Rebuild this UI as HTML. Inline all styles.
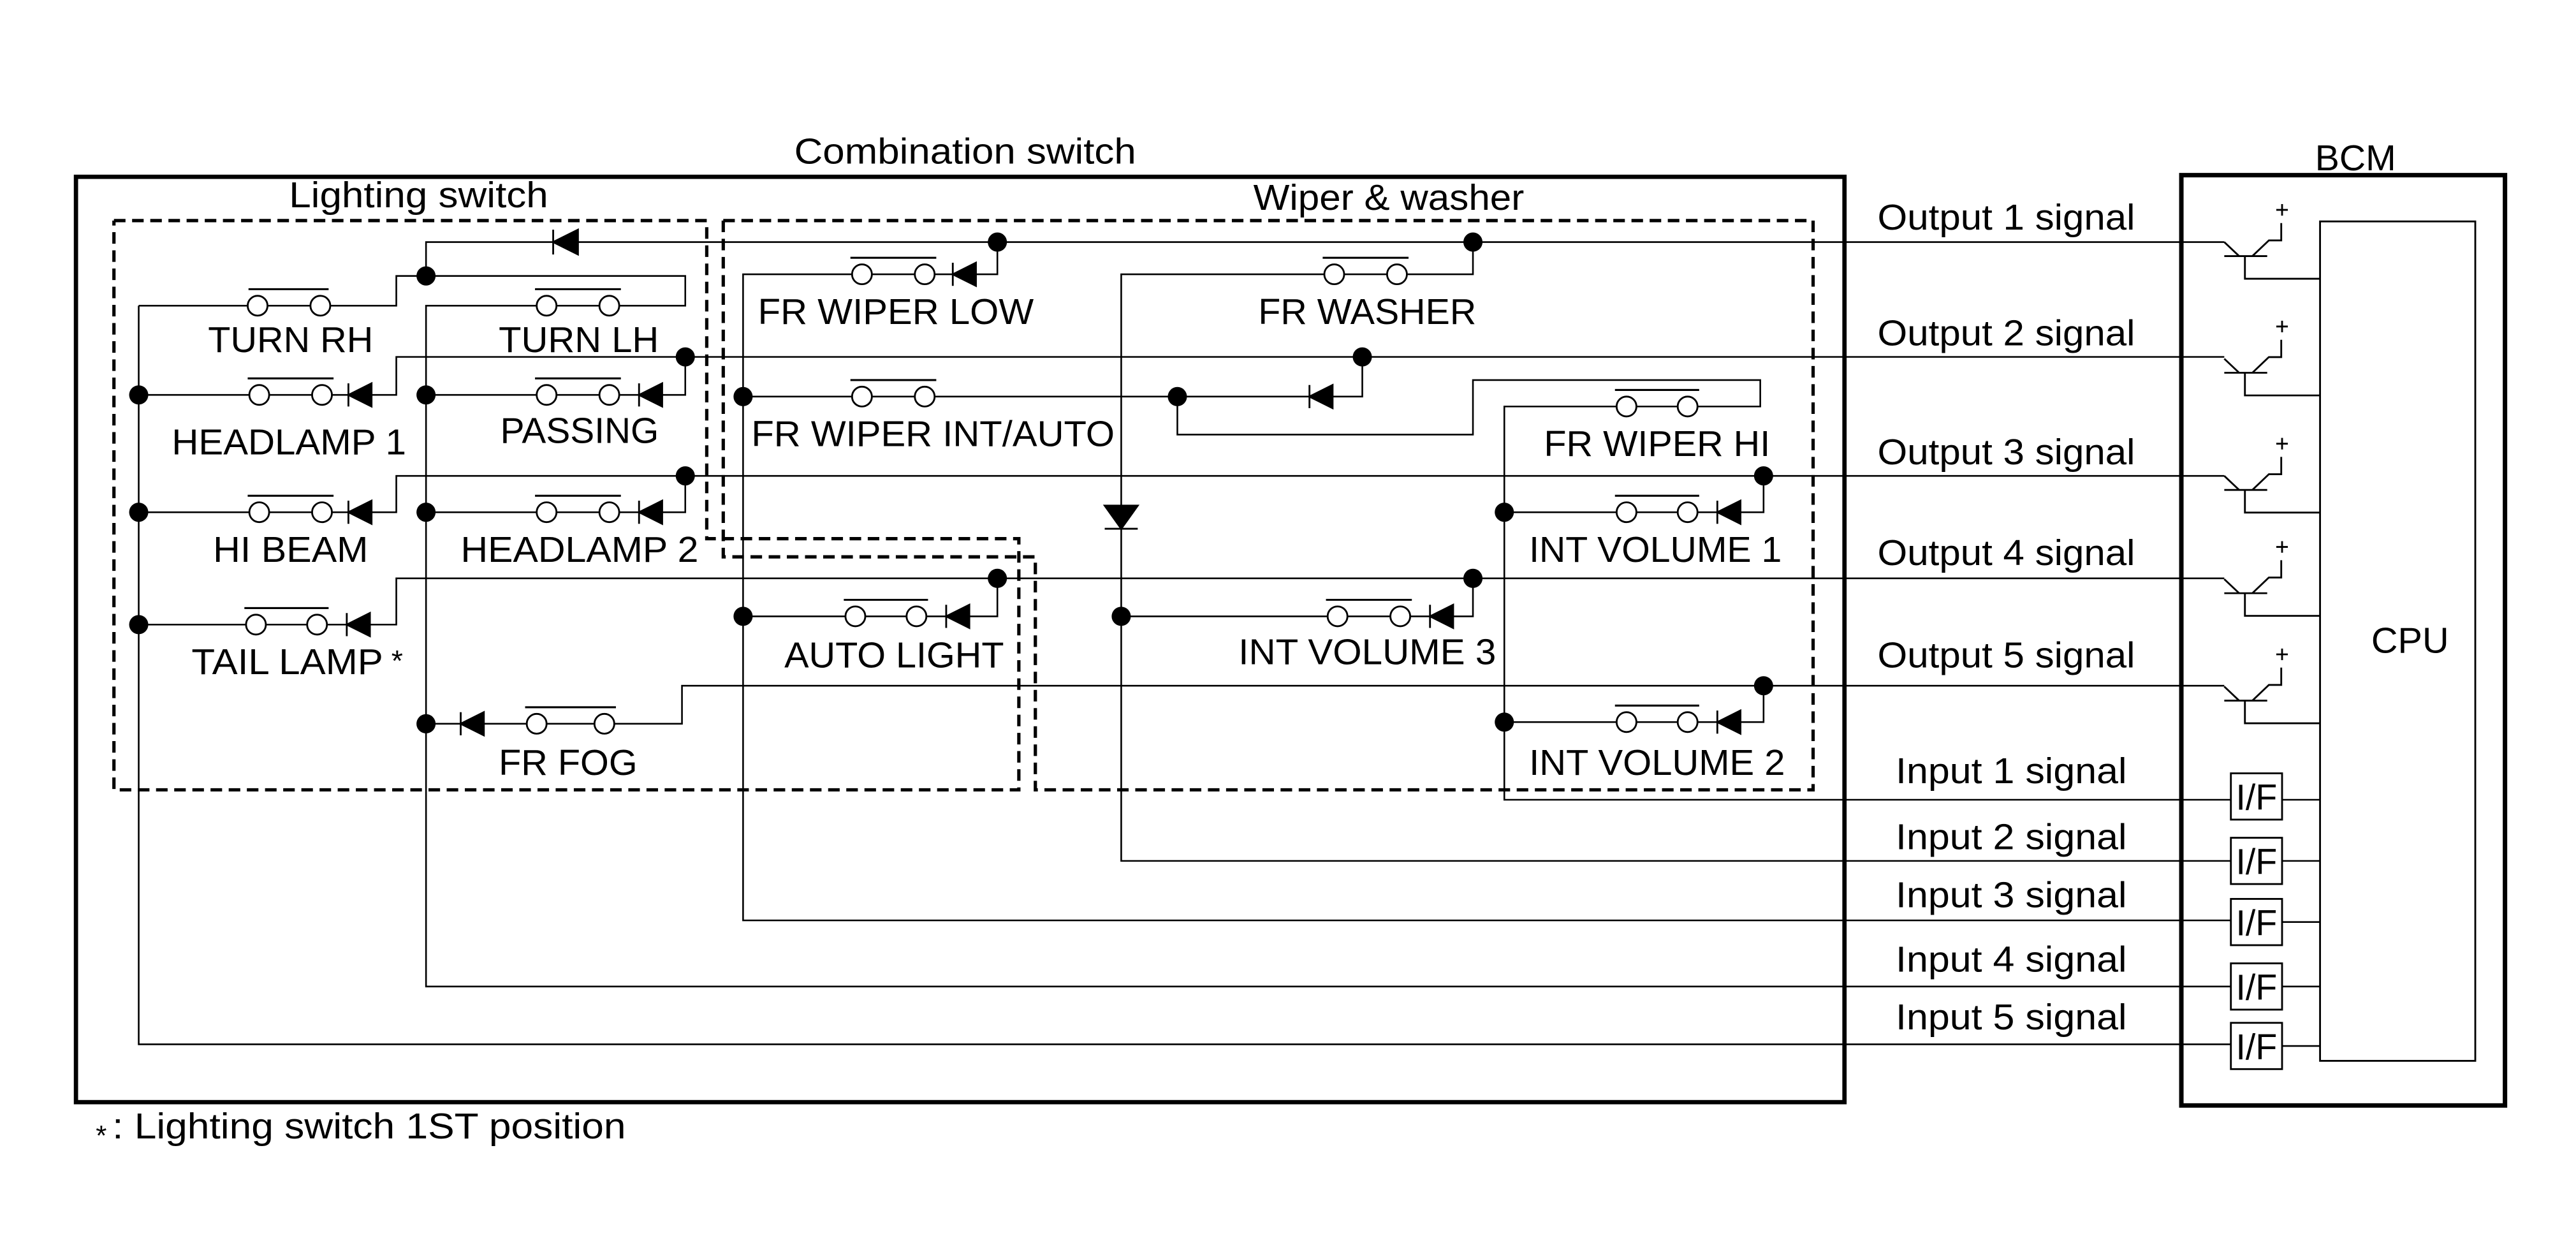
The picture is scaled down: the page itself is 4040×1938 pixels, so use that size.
<!DOCTYPE html>
<html><head><meta charset="utf-8"><style>
html,body{margin:0;padding:0;background:#fff;}
svg{display:block;}
text{font-family:"Liberation Sans",sans-serif;fill:#000;}
</style></head><body>
<svg xmlns="http://www.w3.org/2000/svg" width="4040" height="1938" viewBox="0 0 1560 748" preserveAspectRatio="none">
<rect x="0" y="0" width="1560" height="748" fill="#fff"/>
<g fill="none" stroke="#000" stroke-width="1" stroke-linejoin="miter">
<rect x="46" y="107" width="1071" height="560" stroke-width="2.6"/>
<rect x="1321" y="106" width="196" height="563" stroke-width="2.7"/>
<rect x="1405" y="134" width="94" height="508" stroke-width="1.1"/>
<g stroke-width="2" stroke-dasharray="7 4">
<polyline points="69,133.5 428,133.5 428,326 617,326 617,478 69,478 69,133.5"/>
<polyline points="438,133.5 1098,133.5 1098,478 627,478 627,337 438,337 438,133.5"/>
</g>
<polyline points="1347,146.5 258,146.5 258,167"/>
<polyline points="604,146.5 604,166 450,166 450,557 1351,557"/>
<polyline points="892,146.5 892,166 679,166 679,521 1351,521"/>
<polyline points="84,185 240,185 240,167 415,167 415,185 258,185 258,597 1351,597"/>
<polyline points="84,185 84,632 1351,632"/>
<polyline points="84,239 240,239 240,216 1347,216"/>
<polyline points="415,216 415,239 258,239"/>
<polyline points="84,310 240,310 240,288 1347,288"/>
<polyline points="415,288 415,310 258,310"/>
<polyline points="84,378 240,378 240,350 1347,350"/>
<polyline points="258,438 413,438 413,415 1347,415"/>
<polyline points="450,240 825,240 825,216"/>
<polyline points="713,240 713,263 892,263 892,230 1066,230 1066,246 911,246 911,484 1351,484"/>
<polyline points="911,310 1068,310 1068,288"/>
<polyline points="911,437 1068,437 1068,415"/>
<polyline points="679,373 892,373 892,350"/>
<polyline points="450,373 604,373 604,350"/>
<line x1="1382" y1="484" x2="1405" y2="484"/>
<line x1="1382" y1="521" x2="1405" y2="521"/>
<line x1="1382" y1="558" x2="1405" y2="558"/>
<line x1="1382" y1="597" x2="1405" y2="597"/>
<line x1="1382" y1="633" x2="1405" y2="633"/>
</g>
<g fill="#fff" stroke="#000" stroke-width="1.1">
<rect x="1351" y="468" width="31" height="28"/>
<rect x="1351" y="507" width="31" height="28"/>
<rect x="1351" y="544" width="31" height="28"/>
<rect x="1351" y="583" width="31" height="28"/>
<rect x="1351" y="619" width="31" height="28"/>
</g>
<g font-size="22" text-anchor="middle">
<text x="1366.5" y="490" textLength="25" lengthAdjust="spacingAndGlyphs">I/F</text>
<text x="1366.5" y="529" textLength="25" lengthAdjust="spacingAndGlyphs">I/F</text>
<text x="1366.5" y="566" textLength="25" lengthAdjust="spacingAndGlyphs">I/F</text>
<text x="1366.5" y="605" textLength="25" lengthAdjust="spacingAndGlyphs">I/F</text>
<text x="1366.5" y="641" textLength="25" lengthAdjust="spacingAndGlyphs">I/F</text>
</g>
<g fill="none" stroke="#000" stroke-width="1.1">
<g id="tr">
<polyline points="1347,146.5 1356,155"/>
<line x1="1347" y1="155" x2="1373" y2="155"/>
<polyline points="1364,155 1374,145.5 1381.5,145.5 1381.5,135"/>
<polyline points="1359.5,155 1359.5,168.7 1405,168.7"/>
<line x1="1378.5" y1="127" x2="1385.5" y2="127"/>
<line x1="1382" y1="123.5" x2="1382" y2="130.5"/>
</g>
<use href="#tr" transform="translate(0,70.6)"/>
<use href="#tr" transform="translate(0,141.5)"/>
<use href="#tr" transform="translate(0,204)"/>
<use href="#tr" transform="translate(0,269)"/>
</g>
<g fill="#fff" stroke="#000" stroke-width="1.1">
<circle cx="156" cy="185" r="6"/><circle cx="194" cy="185" r="6"/>
<circle cx="331" cy="185" r="6"/><circle cx="369" cy="185" r="6"/>
<circle cx="157" cy="239" r="6"/><circle cx="195" cy="239" r="6"/>
<circle cx="331" cy="239" r="6"/><circle cx="369" cy="239" r="6"/>
<circle cx="157" cy="310" r="6"/><circle cx="195" cy="310" r="6"/>
<circle cx="331" cy="310" r="6"/><circle cx="369" cy="310" r="6"/>
<circle cx="155" cy="378" r="6"/><circle cx="192" cy="378" r="6"/>
<circle cx="325" cy="438" r="6"/><circle cx="366" cy="438" r="6"/>
<circle cx="522" cy="166" r="6"/><circle cx="560" cy="166" r="6"/>
<circle cx="808" cy="166" r="6"/><circle cx="846" cy="166" r="6"/>
<circle cx="522" cy="240" r="6"/><circle cx="560" cy="240" r="6"/>
<circle cx="985" cy="246" r="6"/><circle cx="1022" cy="246" r="6"/>
<circle cx="985" cy="310" r="6"/><circle cx="1022" cy="310" r="6"/>
<circle cx="985" cy="437" r="6"/><circle cx="1022" cy="437" r="6"/>
<circle cx="810" cy="373" r="6"/><circle cx="848" cy="373" r="6"/>
<circle cx="518" cy="373" r="6"/><circle cx="555" cy="373" r="6"/>
</g>
<g stroke="#000" stroke-width="1.2">
<line x1="150.5" y1="175" x2="199" y2="175"/>
<line x1="324" y1="175" x2="376" y2="175"/>
<line x1="150" y1="229" x2="202" y2="229"/>
<line x1="324" y1="229" x2="376" y2="229"/>
<line x1="150" y1="300" x2="202" y2="300"/>
<line x1="324" y1="300" x2="376" y2="300"/>
<line x1="148" y1="368" x2="199" y2="368"/>
<line x1="318" y1="428" x2="373" y2="428"/>
<line x1="515" y1="156" x2="567" y2="156"/>
<line x1="801" y1="156" x2="853" y2="156"/>
<line x1="515" y1="230" x2="567" y2="230"/>
<line x1="978" y1="236" x2="1029" y2="236"/>
<line x1="978" y1="300" x2="1029" y2="300"/>
<line x1="978" y1="427" x2="1029" y2="427"/>
<line x1="803" y1="363" x2="855" y2="363"/>
<line x1="511" y1="363" x2="562" y2="363"/>
</g>
<g fill="#000" stroke="#000" stroke-width="1.1">
<polygon points="335,146.5 350,139 350,154"/><line x1="335" y1="139" x2="335" y2="154"/>
<polygon points="211,239 225,232 225,246"/><line x1="211" y1="232" x2="211" y2="246"/>
<polygon points="387,239 401,232 401,246"/><line x1="387" y1="232" x2="387" y2="246"/>
<polygon points="211,310 225,303 225,317"/><line x1="211" y1="303" x2="211" y2="317"/>
<polygon points="387,310 401,303 401,317"/><line x1="387" y1="303" x2="387" y2="317"/>
<polygon points="210,378 224,371 224,385"/><line x1="210" y1="371" x2="210" y2="385"/>
<polygon points="279,438 293,431 293,445"/><line x1="279" y1="431" x2="279" y2="445"/>
<polygon points="577,166 591,159 591,173"/><line x1="577" y1="159" x2="577" y2="173"/>
<polygon points="793,240 807,233 807,247"/><line x1="793" y1="233" x2="793" y2="247"/>
<polygon points="1040,310 1054,303 1054,317"/><line x1="1040" y1="303" x2="1040" y2="317"/>
<polygon points="1040,437 1054,430 1054,444"/><line x1="1040" y1="430" x2="1040" y2="444"/>
<polygon points="866,373 880,366 880,380"/><line x1="866" y1="366" x2="866" y2="380"/>
<polygon points="573,373 587,366 587,380"/><line x1="573" y1="366" x2="573" y2="380"/>
<polygon points="669,306 689,306 679,320"/><line x1="669" y1="320" x2="689" y2="320"/>
</g>
<g fill="#000">
<circle cx="258" cy="167" r="5.8"/><circle cx="604" cy="146.5" r="5.8"/><circle cx="892" cy="146.5" r="5.8"/>
<circle cx="84" cy="239" r="5.8"/><circle cx="258" cy="239" r="5.8"/><circle cx="415" cy="216" r="5.8"/>
<circle cx="450" cy="240" r="5.8"/><circle cx="713" cy="240" r="5.8"/><circle cx="825" cy="216" r="5.8"/>
<circle cx="84" cy="310" r="5.8"/><circle cx="258" cy="310" r="5.8"/><circle cx="415" cy="288" r="5.8"/>
<circle cx="911" cy="310" r="5.8"/><circle cx="1068" cy="288" r="5.8"/><circle cx="84" cy="378" r="5.8"/>
<circle cx="604" cy="350" r="5.8"/><circle cx="892" cy="350" r="5.8"/><circle cx="450" cy="373" r="5.8"/>
<circle cx="679" cy="373" r="5.8"/><circle cx="258" cy="438" r="5.8"/><circle cx="1068" cy="415" r="5.8"/>
<circle cx="911" cy="437" r="5.8"/>
</g>
<g font-size="22">
<text x="481" y="99" textLength="207" lengthAdjust="spacingAndGlyphs">Combination switch</text>
<text x="1402" y="103" textLength="49" lengthAdjust="spacingAndGlyphs">BCM</text>
<text x="175" y="125.5" textLength="157" lengthAdjust="spacingAndGlyphs">Lighting switch</text>
<text x="759" y="127" textLength="164" lengthAdjust="spacingAndGlyphs">Wiper &amp; washer</text>
<text x="126" y="213" textLength="100" lengthAdjust="spacingAndGlyphs">TURN RH</text>
<text x="302" y="213" textLength="97" lengthAdjust="spacingAndGlyphs">TURN LH</text>
<text x="104" y="275" textLength="142" lengthAdjust="spacingAndGlyphs">HEADLAMP 1</text>
<text x="303" y="268" textLength="96" lengthAdjust="spacingAndGlyphs">PASSING</text>
<text x="129" y="340" textLength="94" lengthAdjust="spacingAndGlyphs">HI BEAM</text>
<text x="279" y="340" textLength="144" lengthAdjust="spacingAndGlyphs">HEADLAMP 2</text>
<text x="116" y="408" textLength="116" lengthAdjust="spacingAndGlyphs">TAIL LAMP</text>
<text x="237" y="406" font-size="18">*</text>
<text x="302" y="469" textLength="84" lengthAdjust="spacingAndGlyphs">FR FOG</text>
<text x="459" y="196" textLength="167" lengthAdjust="spacingAndGlyphs">FR WIPER LOW</text>
<text x="762" y="196" textLength="132" lengthAdjust="spacingAndGlyphs">FR WASHER</text>
<text x="455" y="270" textLength="220" lengthAdjust="spacingAndGlyphs">FR WIPER INT/AUTO</text>
<text x="935" y="276" textLength="137" lengthAdjust="spacingAndGlyphs">FR WIPER HI</text>
<text x="926" y="340" textLength="153" lengthAdjust="spacingAndGlyphs">INT VOLUME 1</text>
<text x="475" y="404" textLength="133" lengthAdjust="spacingAndGlyphs">AUTO LIGHT</text>
<text x="750" y="402" textLength="156" lengthAdjust="spacingAndGlyphs">INT VOLUME 3</text>
<text x="926" y="469" textLength="155" lengthAdjust="spacingAndGlyphs">INT VOLUME 2</text>
<text x="1137" y="139" textLength="156" lengthAdjust="spacingAndGlyphs">Output 1 signal</text>
<text x="1137" y="209" textLength="156" lengthAdjust="spacingAndGlyphs">Output 2 signal</text>
<text x="1137" y="281" textLength="156" lengthAdjust="spacingAndGlyphs">Output 3 signal</text>
<text x="1137" y="342" textLength="156" lengthAdjust="spacingAndGlyphs">Output 4 signal</text>
<text x="1137" y="404" textLength="156" lengthAdjust="spacingAndGlyphs">Output 5 signal</text>
<text x="1148" y="474" textLength="140" lengthAdjust="spacingAndGlyphs">Input 1 signal</text>
<text x="1148" y="514" textLength="140" lengthAdjust="spacingAndGlyphs">Input 2 signal</text>
<text x="1148" y="549" textLength="140" lengthAdjust="spacingAndGlyphs">Input 3 signal</text>
<text x="1148" y="588" textLength="140" lengthAdjust="spacingAndGlyphs">Input 4 signal</text>
<text x="1148" y="623" textLength="140" lengthAdjust="spacingAndGlyphs">Input 5 signal</text>
<text x="1436" y="395" textLength="47" lengthAdjust="spacingAndGlyphs">CPU</text>
<text x="58" y="693" font-size="17">*</text>
<text x="68" y="689" textLength="311" lengthAdjust="spacingAndGlyphs">: Lighting switch 1ST position</text>
</g>
</svg>
</body></html>
